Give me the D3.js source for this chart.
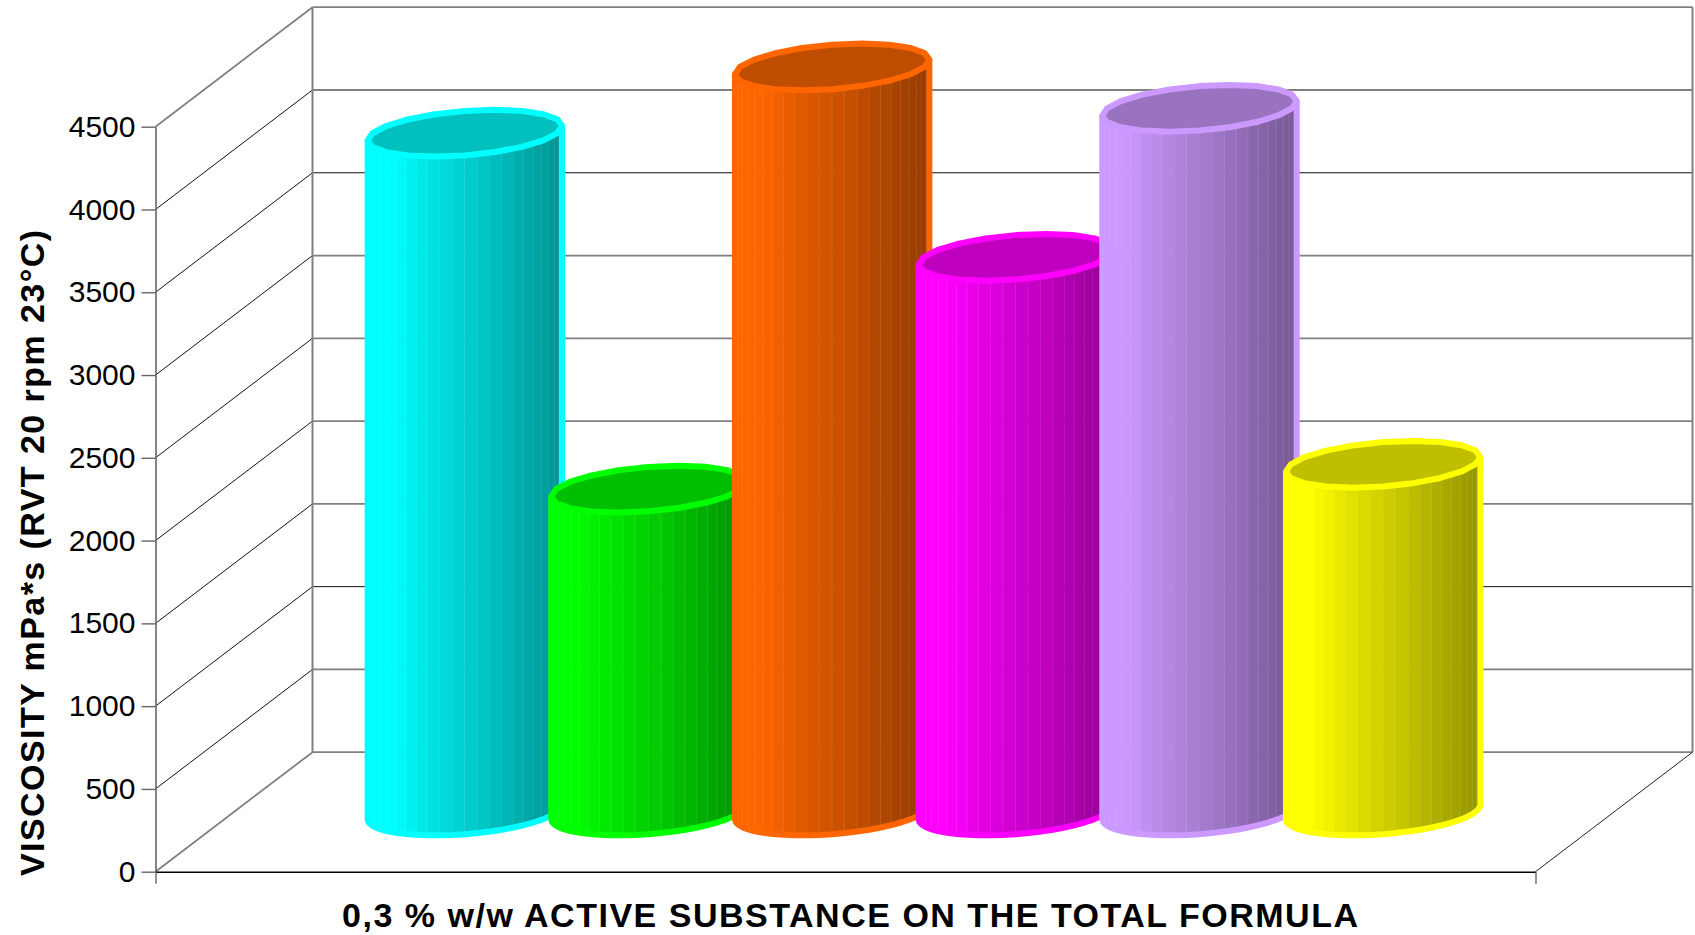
<!DOCTYPE html>
<html>
<head>
<meta charset="utf-8">
<script src="https://cdn.jsdelivr.net/npm/d3@7"></script>
<style>
    html, body { margin: 0; padding: 0; background: #fff; }
    svg { display: block; }
    text { font-family: "Liberation Sans", Arial, sans-serif; fill: #000; }
</style>
</head>
<body>
<div id="chart"></div>
<script>
const barNames = ["Bar 1", "Bar 2", "Bar 3", "Bar 4", "Bar 5", "Bar 6"];
const barValues = [4100, 1950, 4500, 3350, 4250, 2100];
const barColors = ["#00ffff", "#00ff00", "#ff6600", "#ff00ff", "#cc99ff", "#ffff00"];
const yTicks = [0, 500, 1000, 1500, 2000, 2500, 3000, 3500, 4000, 4500];
const xTitle = "0,3 % w/w ACTIVE SUBSTANCE ON THE TOTAL FORMULA";
const yTitle = "VISCOSITY mPa*s (RVT 20 rpm 23°C)";

const width = 1695, height = 935;
// front face of the box and how far the back wall is shifted
const front = {left: 155.5, right: 1535.5, top: 126.7, bottom: 871.7};
const depth = {x: 157, y: 119.5};
const groupPad = 139;

const svg = d3.select("#chart").append("svg")
    .attr("width", width)
    .attr("height", height);

const y = d3.scaleLinear().domain([0, 4500]).range([front.bottom, front.top]);
const x = d3.scaleBand().domain(barNames)
    .range([front.left + groupPad, front.right - groupPad]);
const xEnds = d3.scaleLinear().domain([0, 1]).range([front.left, front.right]);

// walls
const walls = svg.append("g");
function wallLine(x1, y1, x2, y2, color, w) {
    walls.append("line")
        .attr("x1", x1).attr("y1", y1).attr("x2", x2).attr("y2", y2)
        .attr("stroke", color).attr("stroke-width", w);
}
const backLeft = front.left + depth.x, backRight = front.right + depth.x;

yTicks.forEach((t, i) => {
    const edge = i == 0 || i == yTicks.length - 1;
    wallLine(front.left, y(t), backLeft, y(t) - depth.y, edge ? "#808080" : "#111", edge ? 1.8 : 1);
    // every few rows of the back wall rasterised thin and black in the original
    const thin = t == 3500 || t == 1000;
    wallLine(backLeft, y(t) - depth.y, backRight, y(t) - depth.y, thin ? "#111" : "#808080", thin ? 1 : 1.8);
});
wallLine(backLeft, y(4500) - depth.y, backLeft, y(0) - depth.y, "#808080", 2);
wallLine(backRight, y(4500) - depth.y, backRight, y(0) - depth.y, "#808080", 2);
wallLine(front.right, y(0), backRight, y(0) - depth.y, "#222", 1);

// axes
const yAxis = d3.axisLeft(y).tickValues(yTicks).tickSize(14).tickSizeOuter(0).tickPadding(6)
    .tickFormat(d3.format("d"));
const yG = svg.append("g").attr("transform", `translate(${front.left},0)`).call(yAxis);
yG.select(".domain").attr("stroke", "#666").attr("stroke-width", 1.6);
yG.selectAll(".tick line").attr("stroke", "#666").attr("stroke-width", 1.4);
yG.selectAll(".tick text").attr("font-size", 30).attr("fill", "#000")
    .style("font-family", '"Liberation Sans", Arial, sans-serif');

const xAxis = d3.axisBottom(xEnds).tickValues([0, 1]).tickSize(12).tickSizeOuter(0).tickFormat("");
const xG = svg.append("g").attr("transform", `translate(0,${front.bottom})`).call(xAxis);
xG.select(".domain").attr("stroke", "#000").attr("stroke-width", 1.6);
xG.selectAll(".tick line").attr("stroke", "#666").attr("stroke-width", 1.4);

// cylinders
const radius = 97.2, capH = 23.4, tilt = 18.2 * Math.PI / 180;
const nStrips = 24;
const line = d3.line();

function shade(color, k) {
    const c = d3.rgb(color);
    return d3.rgb(c.r * k, c.g * k, c.b * k).formatHex();
}
function rimPoint(cx, cy, phi) {
    return [cx + radius * Math.cos(phi), cy - capH * Math.sin(phi + tilt)];
}
// brightness across the visible side, left edge to right edge
const light = d3.scaleLinear().domain([0, 0.12, 0.19, 0.37, 0.58, 0.82, 1])
    .range([1, 1, 0.96, 0.87, 0.78, 0.66, 0.58]);

const bars = svg.selectAll(".bar").data(barNames).enter().append("g").attr("class", "bar");

bars.each(function(name, i) {
    const g = d3.select(this);
    const cx = x(name) + x.bandwidth() / 2 + depth.x / 2;
    const topY = y(barValues[i]) - depth.y / 2;
    const baseY = y(0) - depth.y / 2;
    const color = barColors[i];
    const angles = d3.range(nStrips + 1).map(k => Math.PI + Math.PI * k / nStrips);

    d3.pairs(angles).forEach(([a0, a1]) => {
        const pts = [rimPoint(cx, topY, a0), rimPoint(cx, topY, a1), rimPoint(cx, baseY, a1), rimPoint(cx, baseY, a0)];
        const frac = ((pts[0][0] + pts[1][0]) / 2 - (cx - radius)) / (2 * radius);
        const fill = shade(color, light(frac));
        g.append("path").attr("d", line(pts) + "Z")
            .attr("fill", fill).attr("stroke", fill).attr("stroke-width", 0.6);
        g.append("line")
            .attr("x1", pts[1][0]).attr("y1", pts[1][1]).attr("x2", pts[2][0]).attr("y2", pts[2][1])
            .attr("stroke", "#fff").attr("stroke-opacity", 0.28).attr("stroke-width", 0.8);
    });

    // outline: down the left side, round the bottom, up the right side
    const outline = [rimPoint(cx, topY, Math.PI)].concat(
        angles.map(a => rimPoint(cx, baseY, a)),
        [rimPoint(cx, topY, 2 * Math.PI)]);
    g.append("path").attr("d", line(outline))
        .attr("fill", "none").attr("stroke", color).attr("stroke-width", 6).attr("stroke-linejoin", "round");

    // the rim is a coarse polygon in the original, so keep the corners visible
    const cap = d3.range(20).map(k => rimPoint(cx, topY, 2 * Math.PI * k / 20));
    g.append("path").attr("d", line(cap) + "Z")
        .attr("fill", shade(color, 0.75)).attr("stroke", color).attr("stroke-width", 6).attr("stroke-linejoin", "round");
});

// titles
svg.append("text")
    .attr("x", 342).attr("y", 927)
    .attr("textLength", 1016).attr("lengthAdjust", "spacing")
    .attr("font-size", 34).attr("font-weight", "bold")
    .text(xTitle);
svg.append("text")
    .attr("transform", "translate(44,876) rotate(-90)")
    .attr("textLength", 646).attr("lengthAdjust", "spacing")
    .attr("font-size", 34).attr("font-weight", "bold")
    .text(yTitle);
</script>
</body>
</html>
